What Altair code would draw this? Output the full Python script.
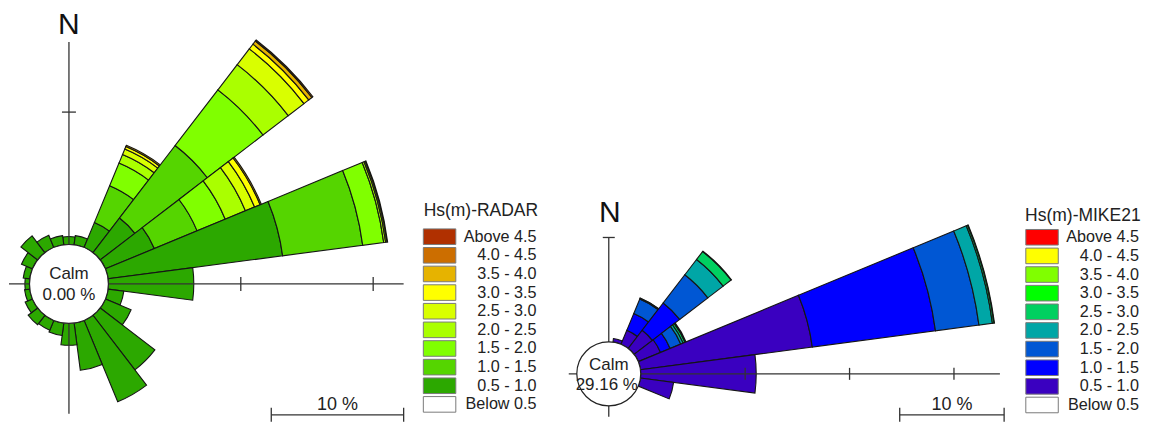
import altair as alt
import pandas as pd

# ---------------- data ----------------
directions = [0, 15, 30, 45, 60, 75, 90, 105, 120, 135, 150, 165,
              180, 195, 210, 225, 240, 255, 270, 285, 300, 315, 330, 345]

legend_labels = ["Above 4.5", "4.0 - 4.5", "3.5 - 4.0", "3.0 - 3.5", "2.5 - 3.0",
                 "2.0 - 2.5", "1.5 - 2.0", "1.0 - 1.5", "0.5 - 1.0", "Below 0.5"]
radar_colors = ["#B03000", "#CC6E00", "#E6B300", "#FFFF00", "#D9FF00",
                "#AAFF00", "#80FF00", "#55D500", "#2CA800", "#FFFFFF"]
mike_colors = ["#FF0000", "#FFFF00", "#80FF00", "#00FF00", "#00D060",
               "#00A6A6", "#0057D4", "#0000FF", "#3A00C0", "#FFFFFF"]

# Hs(m)-RADAR : frequency (%) per direction, per height class
radar_05_10 = [0.6, 0.7, 2.05, 3.3, 4.0, 13.3, 6.45, 1.2, 2.1, 5.2, 6.65, 3.6,
               1.65, 0.95, 0.8, 0.9, 0.6, 0.4, 0.35, 0.5, 0.9, 1.6, 1.0, 0.7]
radar_10_15 = [0, 0, 3.0, 6.9, 3.5, 6.1, 0, 0, 0, 0, 0, 0,
               0, 0, 0, 0, 0, 0, 0, 0, 0, 0, 0, 0]
radar_15_20 = [0, 0, 1.85, 5.3, 2.3, 1.6, 0, 0, 0, 0, 0, 0,
               0, 0, 0, 0, 0, 0, 0, 0, 0, 0, 0, 0]
radar_20_25 = [0, 0, 0.7, 2.4, 1.65, 0.15, 0, 0, 0, 0, 0, 0,
               0, 0, 0, 0, 0, 0, 0, 0, 0, 0, 0, 0]
radar_25_30 = [0, 0, 0.45, 1.5, 0.75, 0.1, 0, 0, 0, 0, 0, 0,
               0, 0, 0, 0, 0, 0, 0, 0, 0, 0, 0, 0]
radar_30_35 = [0, 0, 0.2, 0.45, 0.45, 0.05, 0, 0, 0, 0, 0, 0,
               0, 0, 0, 0, 0, 0, 0, 0, 0, 0, 0, 0]
radar_35_40 = [0, 0, 0.1, 0.3, 0.1, 0, 0, 0, 0, 0, 0, 0,
               0, 0, 0, 0, 0, 0, 0, 0, 0, 0, 0, 0]
radar_40_45 = [0, 0, 0, 0.1, 0, 0, 0, 0, 0, 0, 0, 0,
               0, 0, 0, 0, 0, 0, 0, 0, 0, 0, 0, 0]
radar_calm = "0.00 %"

# Hs(m)-MIKE21
mike_05_10 = [0, 0.35, 1.45, 2.2, 2.3, 16.6, 11.06, 3.2, 0, 0, 0, 0,
              0, 0, 0, 0, 0, 0, 0, 0, 0, 0, 0, 0]
mike_10_15 = [0, 0, 1.75, 3.3, 1.0, 11.9, 0, 0, 0, 0, 0, 0,
              0, 0, 0, 0, 0, 0, 0, 0, 0, 0, 0, 0]
mike_15_20 = [0, 0, 1.5, 3.4, 1.1, 4.2, 0, 0, 0, 0, 0, 0,
              0, 0, 0, 0, 0, 0, 0, 0, 0, 0, 0, 0]
mike_20_25 = [0, 0, 0.08, 1.85, 0.25, 1.3, 0, 0, 0, 0, 0, 0,
              0, 0, 0, 0, 0, 0, 0, 0, 0, 0, 0, 0]
mike_25_30 = [0, 0, 0.02, 0.95, 0.2, 0.15, 0, 0, 0, 0, 0, 0,
              0, 0, 0, 0, 0, 0, 0, 0, 0, 0, 0, 0]
mike_30_35 = [0, 0, 0, 0.05, 0.1, 0.05, 0, 0, 0, 0, 0, 0,
              0, 0, 0, 0, 0, 0, 0, 0, 0, 0, 0, 0]
mike_calm = "29.16 %"

# ---------------- layout constants ----------------
FONT = "Liberation Sans"
SECTOR = 15.0
L_CX, L_CY, L_R0, L_K = 60.0, 276.0, 39.5, 13.25
R_CX, R_CY, R_R0, R_K = 600.3, 366.0, 32.0, 10.45


def rose_table(classes, colors):
    rows = []
    for i, d in enumerate(directions):
        cum = 0.0
        for idx, vals in classes:
            v = vals[i]
            if v > 0:
                rows.append(dict(dir=d, t0=d - SECTOR / 2, t1=d + SECTOR / 2,
                                 r0=cum, r1=cum + v, cls=legend_labels[idx],
                                 fill=colors[idx]))
                cum += v
    return pd.DataFrame(rows)


radar_df = rose_table([(8, radar_05_10), (7, radar_10_15), (6, radar_15_20),
                       (5, radar_20_25), (4, radar_25_30), (3, radar_30_35),
                       (2, radar_35_40), (1, radar_40_45)], radar_colors)
mike_df = rose_table([(8, mike_05_10), (7, mike_10_15), (6, mike_15_20),
                      (5, mike_20_25), (4, mike_25_30), (3, mike_30_35)], mike_colors)


def rose_layer(df, cx, cy, r0, k, rmax):
    return alt.Chart(df).mark_arc(stroke="#151515", strokeWidth=1.1).encode(
        theta=alt.Theta("t0:Q", scale=alt.Scale(domain=[0, 360], range=[0, 6.283185307179586]),
                        stack=None),
        theta2="t1:Q",
        radius=alt.Radius("r1:Q", scale=alt.Scale(type="linear", domain=[0, rmax],
                                                  range=[r0, r0 + k * rmax], zero=False),
                          stack=None),
        radius2="r0:Q",
        fill=alt.Fill("fill:N", scale=None),
        x=alt.value(cx), y=alt.value(cy),
    )


def px(r0, k, pct):
    return r0 + k * pct


# axes lines and ticks
rules = []
# left rose
rules.append(dict(x=L_CX - px(L_R0, L_K, 1.55), x2=L_CX + px(L_R0, L_K, 22.3), y=L_CY, y2=L_CY))
rules.append(dict(x=L_CX, x2=L_CX, y=L_CY - px(L_R0, L_K, 15.3), y2=L_CY + px(L_R0, L_K, 6.83)))
for p in [10, 20]:
    xx = L_CX + px(L_R0, L_K, p)
    rules.append(dict(x=xx, x2=xx, y=L_CY - 7, y2=L_CY + 7))
yy = L_CY - px(L_R0, L_K, 10)
rules.append(dict(x=L_CX - 7, x2=L_CX + 7, y=yy, y2=yy))
# right rose
rules.append(dict(x=R_CX - px(R_R0, R_K, 0.77), x2=R_CX + px(R_R0, R_K, 34.4), y=R_CY, y2=R_CY))
rules.append(dict(x=R_CX, x2=R_CX, y=R_CY - px(R_R0, R_K, 10), y2=R_CY + px(R_R0, R_K, 1.05)))
for p in [10, 20, 30]:
    xx = R_CX + px(R_R0, R_K, p)
    rules.append(dict(x=xx, x2=xx, y=R_CY - 6, y2=R_CY + 6))
yy = R_CY - px(R_R0, R_K, 10)
rules.append(dict(x=R_CX - 6, x2=R_CX + 6, y=yy, y2=yy))
# 10 % scale bars
for x_end, k in [(395.0, L_K), (996.0, R_K)]:
    x_start = x_end - 10 * k
    rules.append(dict(x=x_start, x2=x_end, y=407, y2=407))
    rules.append(dict(x=x_start, x2=x_start, y=400, y2=414))
    rules.append(dict(x=x_end, x2=x_end, y=400, y2=414))
rules_df = pd.DataFrame(rules)

rule_layer = alt.Chart(rules_df).mark_rule(color="#333333", strokeWidth=1.3).encode(
    x=alt.X("x:Q", scale=None), x2="x2:Q",
    y=alt.Y("y:Q", scale=None), y2="y2:Q")

# calm circles
calm_df = pd.DataFrame({"dummy": [0]})


def calm_circle(cx, cy, r):
    return alt.Chart(calm_df).mark_arc(fill="white", stroke="#222222", strokeWidth=1.2).encode(
        theta=alt.value(0), theta2=alt.value(6.2832), radius=alt.value(r),
        x=alt.value(cx), y=alt.value(cy))


texts_calm = pd.DataFrame({
    "x": [L_CX, L_CX, R_CX, R_CX - 2],
    "y": [L_CY - 10, L_CY + 11, R_CY - 9, R_CY + 11],
    "t": ["Calm", radar_calm, "Calm", mike_calm]})
calm_text = alt.Chart(texts_calm).mark_text(font=FONT, fontSize=17, color="#222222").encode(
    x=alt.X("x:Q", scale=None), y=alt.Y("y:Q", scale=None), text="t:N")

north_df = pd.DataFrame({"x": [L_CX, R_CX + 1], "y": [17, 205], "t": ["N", "N"]})
north_text = alt.Chart(north_df).mark_text(font=FONT, fontSize=30, color="#111111").encode(
    x=alt.X("x:Q", scale=None), y=alt.Y("y:Q", scale=None), text="t:N")

scale_df = pd.DataFrame({"x": [395.0 - 5 * L_K, 996.0 - 5 * R_K], "y": [397, 397],
                         "t": ["10 %", "10 %"]})
scale_text = alt.Chart(scale_df).mark_text(font=FONT, fontSize=18, color="#222222").encode(
    x=alt.X("x:Q", scale=None), y=alt.Y("y:Q", scale=None), text="t:N")

# legends
leg_rows = []
for lx, ly, lab_x, colors in [(414.7, 228.7, 528.0, radar_colors),
                              (1017.7, 229.3, 1131.0, mike_colors)]:
    for i, (lab, col) in enumerate(zip(legend_labels, colors)):
        cy = ly + i * 18.65
        leg_rows.append(dict(x=lx, x2=lx + 32.5, y=cy - 7.8, y2=cy + 7.8, yc=cy,
                             lx=lab_x, label=lab, fill=col))
leg_df = pd.DataFrame(leg_rows)
leg_boxes = alt.Chart(leg_df).mark_rect(stroke="#7a7a7a", strokeWidth=1).encode(
    x=alt.X("x:Q", scale=None), x2="x2:Q", y=alt.Y("y:Q", scale=None), y2="y2:Q",
    fill=alt.Fill("fill:N", scale=None))
leg_labels = alt.Chart(leg_df).mark_text(font=FONT, fontSize=16.2, align="right",
                                         color="#222222").encode(
    x=alt.X("lx:Q", scale=None), y=alt.Y("yc:Q", scale=None), text="label:N")

title_df = pd.DataFrame({"x": [415.0, 1017.0], "y": [203.0, 208.0],
                         "t": ["Hs(m)-RADAR", "Hs(m)-MIKE21"]})
leg_titles = alt.Chart(title_df).mark_text(font=FONT, fontSize=17.5, align="left",
                                           color="#222222").encode(
    x=alt.X("x:Q", scale=None), y=alt.Y("y:Q", scale=None), text="t:N")

chart = alt.layer(
    rose_layer(radar_df, L_CX, L_CY, L_R0, L_K, 30),
    rose_layer(mike_df, R_CX, R_CY, R_R0, R_K, 40),
    rule_layer,
    calm_circle(L_CX, L_CY, L_R0),
    calm_circle(R_CX, R_CY, R_R0),
    calm_text, north_text, scale_text,
    leg_boxes, leg_labels, leg_titles,
).resolve_scale(radius="independent").properties(
    width=1136, height=418, padding=0
).configure_view(stroke=None)

chart.save("out.html", embed_options={"renderer": "svg", "actions": False})
